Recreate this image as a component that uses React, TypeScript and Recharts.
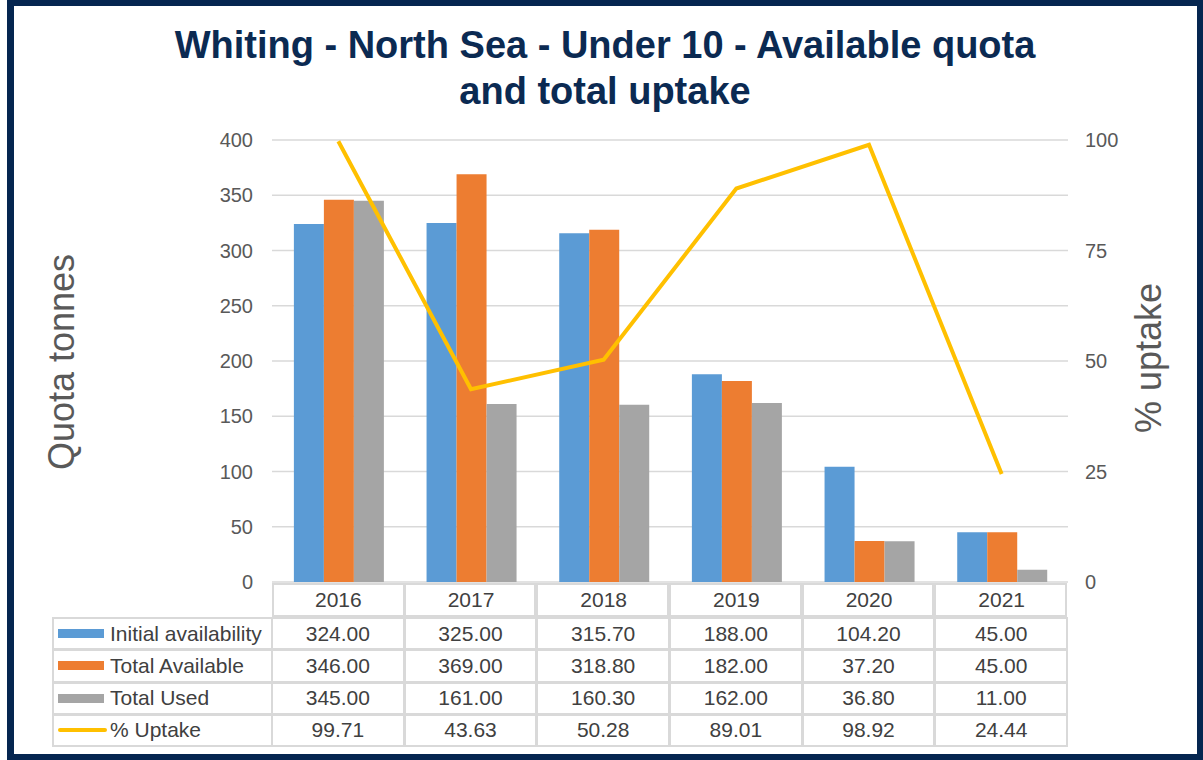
import React from "react";
import { ComposedChart, Bar, Line, XAxis, YAxis, CartesianGrid } from "recharts";

const years = ["2016", "2017", "2018", "2019", "2020", "2021"];
const initialAvailability = [324.0, 325.0, 315.7, 188.0, 104.2, 45.0];
const totalAvailable = [346.0, 369.0, 318.8, 182.0, 37.2, 45.0];
const totalUsed = [345.0, 161.0, 160.3, 162.0, 36.8, 11.0];
const uptake = [99.71, 43.63, 50.28, 89.01, 98.92, 24.44];
const leftTicks = [0, 50, 100, 150, 200, 250, 300, 350, 400];
const rightTicks = [0, 25, 50, 75, 100];

const data = years.map((year, i) => ({
  year,
  initial: initialAvailability[i],
  available: totalAvailable[i],
  used: totalUsed[i],
  uptake: uptake[i],
}));

const series = [
  { name: "Initial availability", values: initialAvailability, color: "#5B9BD5", kind: "bar" },
  { name: "Total Available", values: totalAvailable, color: "#ED7D31", kind: "bar" },
  { name: "Total Used", values: totalUsed, color: "#A5A5A5", kind: "bar" },
  { name: "% Uptake", values: uptake, color: "#FFC000", kind: "line" },
];

const W = 1203;
const H = 760;
const plotLeft = 272;
const plotRight = 1068;
const plotTop = 140;
const plotBottom = 582;
const colW = (plotRight - plotLeft) / years.length;
const gridColor = "#D9D9D9";
const textColor = "#404040";
const font = "Arial, 'Liberation Sans', sans-serif";

function DataTable() {
  const headerTop = 583;
  const rowTop = 617;
  const rowH = 32.25;
  const cells: React.ReactNode[] = [];
  years.forEach((_, i) => {
    cells.push(
      <div
        key={"h" + i}
        style={{
          position: "absolute",
          left: plotLeft + i * colW,
          top: headerTop,
          width: colW,
          height: rowTop - headerTop,
          border: `2px solid ${gridColor}`,
          boxSizing: "border-box",
          marginLeft: i > 0 ? -1 : 0,
        }}
      />
    );
  });
  series.forEach((s, r) => {
    const top = rowTop + r * rowH;
    cells.push(
      <div
        key={"l" + r}
        style={{
          position: "absolute",
          left: 52,
          top,
          width: plotLeft - 52 + 1,
          height: rowH + 1,
          border: `2px solid ${gridColor}`,
          boxSizing: "border-box",
          display: "flex",
          alignItems: "center",
          color: textColor,
          fontSize: 21,
          whiteSpace: "nowrap",
        }}
      >
        <div
          style={{
            width: s.kind === "bar" ? 46 : 49,
            height: s.kind === "bar" ? 9 : 4,
            background: s.color,
            borderRadius: s.kind === "bar" ? 0 : 2,
            marginLeft: 4,
            marginRight: s.kind === "bar" ? 6 : 3,
          }}
        />
        {s.name}
      </div>
    );
    s.values.forEach((v, i) => {
      cells.push(
        <div
          key={"c" + r + "-" + i}
          style={{
            position: "absolute",
            left: plotLeft + i * colW - 1,
            top,
            width: colW + 1,
            height: rowH + 1,
            border: `2px solid ${gridColor}`,
            boxSizing: "border-box",
            display: "flex",
            alignItems: "center",
            justifyContent: "center",
            color: textColor,
            fontSize: 21,
          }}
        >
          {v.toFixed(2)}
        </div>
      );
    });
  });
  return <>{cells}</>;
}

export default function App() {
  return (
    <div
      style={{
        position: "absolute",
        left: 0,
        top: 0,
        width: W,
        height: H,
        background: "#fff",
        fontFamily: font,
        overflow: "hidden",
      }}
    >
      <div
        style={{
          position: "absolute",
          left: 0,
          top: 22,
          width: 1210,
          textAlign: "center",
          fontSize: 38,
          lineHeight: "46px",
          fontWeight: "bold",
          color: "#0B2A52",
        }}
      >
        Whiting - North Sea - Under 10 - Available quota
        <br />
        and total uptake
      </div>

      <div style={{ position: "absolute", left: 0, top: 0 }}>
        <ComposedChart
          width={W}
          height={H}
          data={data}
          margin={{ top: plotTop, left: plotLeft - 60, right: W - plotRight - 60, bottom: H - plotBottom - 30 }}
          barCategoryGap="16.5%"
          barGap={0}
        >
          <CartesianGrid yAxisId="left" vertical={false} stroke={gridColor} strokeWidth={1.5} />
          <XAxis
            dataKey="year"
            axisLine={false}
            tickLine={false}
            tickSize={0}
            tickMargin={10}
            height={30}
            tick={{ fill: textColor, fontSize: 21, fontFamily: font }}
          />
          <YAxis
            yAxisId="left"
            width={60}
            domain={[0, 400]}
            ticks={leftTicks}
            axisLine={false}
            tickLine={false}
            tickSize={0}
            tickMargin={19}
            tick={{ fill: "#595959", fontSize: 20, fontFamily: font }}
          />
          <YAxis
            yAxisId="right"
            orientation="right"
            width={60}
            domain={[0, 100]}
            ticks={rightTicks}
            axisLine={false}
            tickLine={false}
            tickSize={0}
            tickMargin={17}
            tick={{ fill: "#595959", fontSize: 20, fontFamily: font, textAnchor: "start" }}
          />
          <Bar yAxisId="left" dataKey="initial" fill="#5B9BD5" isAnimationActive={false} />
          <Bar yAxisId="left" dataKey="available" fill="#ED7D31" isAnimationActive={false} />
          <Bar yAxisId="left" dataKey="used" fill="#A5A5A5" isAnimationActive={false} />
          <Line
            yAxisId="right"
            dataKey="uptake"
            stroke="#FFC000"
            strokeWidth={4}
            dot={false}
            type="linear"
            isAnimationActive={false}
          />
        </ComposedChart>
      </div>

      <DataTable />

      <div
        style={{
          position: "absolute",
          left: 62,
          top: 362,
          transform: "translate(-50%, -50%) rotate(-90deg)",
          fontSize: 36,
          color: "#595959",
          whiteSpace: "nowrap",
        }}
      >
        Quota tonnes
      </div>
      <div
        style={{
          position: "absolute",
          left: 1149,
          top: 358,
          transform: "translate(-50%, -50%) rotate(-90deg)",
          fontSize: 36,
          color: "#595959",
          whiteSpace: "nowrap",
        }}
      >
        % uptake
      </div>

      <div
        style={{
          position: "absolute",
          left: 7,
          top: 0,
          width: W - 7,
          height: H,
          border: "6px solid #052650",
          borderLeftWidth: 7,
          boxSizing: "border-box",
          pointerEvents: "none",
        }}
      />
    </div>
  );
}
